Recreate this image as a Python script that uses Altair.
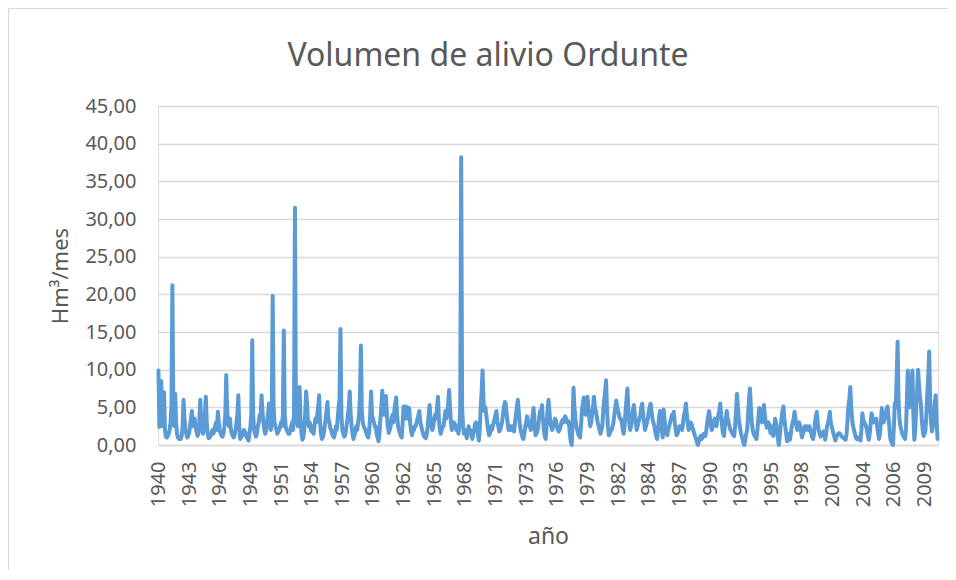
import altair as alt
import pandas as pd

# Monthly spill volume (Hm3/mes), hydrological years starting October 1940
volumen = [
    9.9, 2.4, 3.0, 8.5, 3.0, 2.5, 7.0, 2.0, 1.1, 1.0, 1.2, 1.5,
    2.0, 3.0, 5.0, 21.2, 5.0, 2.5, 6.8, 3.0, 1.5, 1.0, 0.8, 0.8,
    0.8, 1.2, 2.5, 6.0, 3.5, 2.0, 1.5, 1.0, 1.2, 1.6, 2.5, 3.5,
    4.5, 3.0, 2.5, 3.5, 2.5, 1.8, 1.2, 1.5, 3.0, 6.0, 3.5, 2.0,
    1.5, 2.5, 4.0, 6.4, 3.0, 1.5, 0.9, 1.0, 1.2, 1.5, 2.0, 1.5,
    1.8, 2.5, 3.0, 2.0, 4.4, 3.0, 2.0, 1.5, 1.2, 1.1, 1.5, 2.5,
    4.0, 9.3, 4.5, 3.0, 2.5, 3.5, 2.0, 1.5, 1.2, 1.0, 1.3, 2.0,
    3.0, 4.0, 6.6, 2.5, 0.8, 1.0, 1.2, 1.5, 2.0, 1.8, 1.5, 1.0,
    0.8, 0.6, 1.5, 2.5, 4.0, 13.9, 4.0, 2.0, 1.5, 1.1, 1.5, 2.5,
    3.0, 4.0, 3.5, 6.6, 4.5, 3.0, 2.0, 1.5, 2.0, 3.0, 4.0, 5.5,
    3.0, 2.0, 3.0, 19.8, 5.0, 3.0, 2.5, 2.0, 1.5, 1.8, 2.0, 2.5,
    3.0, 2.5, 4.0, 15.2, 4.0, 2.5, 2.0, 1.8, 1.5, 1.5, 2.0, 2.5,
    3.0, 2.0, 4.5, 31.5, 5.0, 3.5, 2.5, 4.0, 7.7, 3.5, 1.5, 0.7,
    1.0, 2.0, 4.0, 7.1, 5.5, 3.0, 2.5, 3.0, 2.0, 1.8, 2.5, 1.5,
    2.5, 3.5, 3.0, 4.0, 5.0, 6.6, 3.0, 1.5, 0.8, 1.0, 1.5, 2.5,
    3.5, 4.5, 5.7, 3.5, 3.0, 2.3, 2.0, 1.5, 1.2, 1.0, 1.5, 2.5,
    2.0, 3.5, 5.0, 6.0, 15.4, 4.0, 2.0, 1.5, 1.1, 1.3, 2.0, 3.0,
    4.0, 5.0, 7.1, 4.0, 2.5, 1.5, 0.8, 1.2, 1.8, 2.5, 2.0, 3.0,
    4.0, 6.5, 13.2, 4.5, 3.0, 2.5, 2.2, 2.0, 1.5, 1.2, 1.0, 2.0,
    4.0, 7.1, 4.0, 3.5, 3.0, 2.5, 2.5, 1.5, 1.0, 0.5, 1.5, 3.5,
    5.0, 7.2, 5.0, 4.0, 5.5, 6.5, 4.0, 2.5, 1.6, 2.0, 2.5, 3.5,
    4.0, 3.0, 4.5, 5.5, 6.3, 4.0, 2.5, 2.0, 1.6, 1.2, 1.0, 3.0,
    5.1, 4.0, 5.1, 3.5, 5.0, 4.5, 4.9, 3.0, 2.0, 1.3, 1.8, 2.0,
    2.5, 2.5, 3.0, 3.5, 4.0, 4.5, 3.0, 2.5, 2.0, 1.5, 1.2, 1.0,
    0.9, 1.5, 2.5, 4.0, 5.3, 3.5, 2.5, 2.0, 2.5, 3.5, 4.0, 3.5,
    5.0, 6.4, 3.5, 2.0, 1.5, 2.0, 2.5, 2.5, 3.5, 4.5, 3.5, 4.0,
    5.5, 7.3, 5.0, 3.0, 2.0, 2.5, 3.0, 2.8, 2.5, 2.0, 2.5, 1.5,
    2.5, 5.0, 38.2, 5.0, 2.5, 1.5, 2.0, 1.5, 0.9, 1.5, 2.5, 2.0,
    2.0, 1.5, 0.8, 1.5, 2.0, 2.8, 3.0, 2.5, 1.5, 0.6, 2.0, 5.0,
    7.0, 9.9, 6.0, 4.5, 5.0, 4.0, 3.0, 2.0, 1.3, 1.5, 2.5, 2.0,
    2.5, 3.0, 3.5, 4.0, 4.5, 3.0, 2.5, 1.8, 2.0, 2.5, 3.0, 4.0,
    5.0, 5.7, 5.5, 4.0, 3.0, 2.0, 2.5, 2.5, 2.0, 2.5, 2.0, 1.8,
    3.0, 4.0, 5.0, 6.0, 4.5, 3.0, 2.0, 1.5, 1.0, 0.8, 1.5, 2.5,
    3.0, 3.8, 3.0, 2.5, 2.5, 2.0, 3.0, 4.0, 4.9, 3.0, 1.3, 1.5,
    1.8, 2.5, 3.8, 4.5, 4.0, 5.3, 3.5, 2.0, 1.2, 0.8, 2.5, 4.5,
    6.0, 4.5, 3.0, 2.5, 2.0, 2.5, 3.0, 3.5, 3.3, 2.5, 2.0, 1.8,
    2.0, 2.5, 3.0, 3.3, 3.0, 3.5, 3.8, 3.5, 3.0, 3.2, 3.0, 1.5,
    0.5, 0.0, 3.0, 7.6, 5.0, 3.5, 2.5, 2.0, 1.5, 1.2, 1.0, 2.5,
    4.5, 5.5, 6.3, 5.0, 4.0, 5.0, 6.4, 5.0, 3.5, 2.5, 3.0, 4.0,
    5.0, 6.4, 5.0, 4.5, 3.8, 3.0, 2.5, 2.0, 1.5, 2.0, 2.5, 4.5,
    6.0, 7.0, 8.6, 5.0, 2.5, 1.3, 1.5, 2.0, 2.0, 2.5, 3.0, 4.0,
    5.0, 5.9, 5.0, 4.5, 4.0, 3.5, 3.5, 3.0, 2.0, 1.5, 2.5, 4.5,
    6.0, 7.5, 5.0, 3.0, 2.0, 2.5, 3.5, 4.5, 5.3, 4.0, 3.0, 2.0,
    2.5, 3.0, 3.5, 4.0, 5.0, 5.5, 4.0, 3.0, 2.0, 2.5, 3.0, 3.5,
    4.5, 5.0, 5.5, 4.5, 3.5, 3.0, 2.5, 1.8, 1.2, 0.8, 2.0, 3.5,
    4.5, 3.0, 2.0, 1.0, 4.7, 3.5, 2.0, 1.5, 1.3, 2.0, 2.5, 3.0,
    3.5, 4.0, 3.5, 4.4, 3.0, 2.0, 1.3, 1.5, 2.0, 2.5, 2.5, 2.2,
    2.0, 3.0, 4.0, 4.5, 5.5, 4.0, 3.0, 2.0, 2.5, 3.0, 2.8, 2.3,
    2.0, 1.5, 1.1, 0.8, 0.3, 0.0, 0.5, 1.0, 1.2, 0.8, 1.0, 1.5,
    1.5, 1.2, 2.0, 3.0, 3.8, 4.5, 3.5, 2.5, 2.0, 2.5, 3.0, 3.5,
    3.3, 2.5, 3.5, 4.0, 4.5, 5.5, 4.0, 2.5, 1.5, 1.2, 2.5, 3.5,
    4.5, 3.5, 3.0, 2.5, 2.0, 1.8, 1.5, 1.3, 1.2, 2.5, 4.5, 6.8,
    5.0, 3.5, 2.5, 1.8, 1.2, 0.8, 0.3, 0.0, 0.8, 1.5, 2.0, 4.0,
    6.0, 7.5, 5.0, 3.0, 2.0, 1.5, 1.2, 1.0, 0.8, 2.0, 3.5, 4.9,
    4.5, 3.5, 3.0, 4.0, 5.3, 4.0, 3.0, 2.3, 2.5, 3.0, 2.5, 1.6,
    2.5, 2.0, 1.2, 2.0, 3.5, 3.0, 2.0, 1.0, 0.0, 1.0, 2.5, 3.5,
    4.5, 5.1, 3.5, 2.5, 1.5, 0.5, 1.0, 1.5, 0.7, 1.5, 2.5, 3.0,
    3.5, 4.4, 3.5, 2.5, 2.0, 2.5, 3.0, 2.5, 1.8, 1.0, 1.5, 2.0,
    2.5, 2.0, 2.5, 2.3, 2.0, 2.5, 2.0, 1.5, 1.0, 0.8, 1.5, 3.0,
    3.8, 4.4, 3.0, 2.0, 1.5, 1.1, 1.3, 1.5, 1.8, 1.6, 0.7, 1.5,
    2.5, 3.0, 3.5, 4.4, 3.0, 2.5, 2.0, 1.5, 1.0, 0.6, 1.0, 1.3,
    1.5, 1.6, 1.5, 1.3, 1.1, 1.0, 0.9, 0.8, 0.7, 1.5, 3.0, 5.0,
    6.0, 7.7, 5.0, 3.5, 2.5, 2.0, 1.5, 1.0, 0.8, 1.0, 0.8, 0.7,
    0.6, 2.0, 4.2, 3.5, 3.0, 2.8, 2.5, 2.0, 1.2, 0.7, 1.5, 3.0,
    4.2, 3.5, 3.0, 3.2, 3.4, 3.5, 2.5, 1.5, 0.8, 1.5, 3.0, 4.9,
    4.0, 3.0, 3.5, 4.0, 4.5, 5.1, 4.0, 2.5, 1.0, 0.5, 0.2, 0.0,
    2.5, 5.5, 5.0, 9.0, 13.7, 6.0, 3.5, 2.5, 2.0, 1.5, 1.2, 1.0,
    0.8, 2.0, 6.0, 9.9, 7.0, 5.0, 6.5, 8.5, 9.9, 4.0, 0.7, 2.0,
    5.0, 7.0, 10.0, 8.0, 6.5, 5.5, 3.5, 2.0, 1.2, 1.5, 2.0, 4.0,
    6.8, 9.0, 12.4, 6.0, 3.0, 1.8, 2.5, 4.0, 5.5, 6.6, 3.0, 0.8,
]

# Category-axis labels (one every 33 months)
tick_idx = list(range(0, 826, 33))
tick_labels = ["1940", "1943", "1946", "1949", "1951", "1954", "1957", "1960",
               "1962", "1965", "1968", "1971", "1973", "1976", "1979", "1982",
               "1984", "1987", "1990", "1993", "1995", "1998", "2001", "2004",
               "2006", "2009"]
y_ticks = [0, 5, 10, 15, 20, 25, 30, 35, 40, 45]
chart_title = "Volumen de alivio Ordunte"

df = pd.DataFrame({"mes": list(range(len(volumen))), "volumen": volumen})

label_expr = "[" + ",".join(f"'{t}'" for t in tick_labels) + "][round(datum.value / 33)]"
ylabel_expr = "replace(format(datum.value, '.2f'), '.', ',')"

TXT = "#595959"
GRID = "#d9d9d9"
FONT = "Noto Sans"

n = len(volumen)

line = alt.Chart(df).mark_line(
    color="#5B9BD5", strokeWidth=4, strokeJoin="round", strokeCap="round"
).encode(
    x=alt.X(
        "mes:Q",
        scale=alt.Scale(domain=[-0.5, n - 0.5], nice=False, zero=False),
        axis=alt.Axis(
            values=tick_idx, labelExpr=label_expr, labelAngle=-90,
            labelAlign="right", labelBaseline="middle", labelPadding=16,
            labelFontSize=20, labelColor=TXT, labelFont=FONT, labelOverlap=False,
            ticks=False, grid=False, domain=True, domainColor=GRID, domainWidth=1.3,
            title="año", titleFontSize=23, titleColor=TXT, titleFont=FONT,
            titleFontWeight="normal", titleY=98, titleBaseline="alphabetic",
        ),
    ),
    y=alt.Y(
        "volumen:Q",
        scale=alt.Scale(domain=[0, 45], nice=False, zero=True),
        axis=alt.Axis(
            values=y_ticks, labelExpr=ylabel_expr, labelPadding=22,
            labelFontSize=20, labelColor=TXT, labelFont=FONT,
            ticks=False, domain=False, grid=True, gridColor=GRID, gridWidth=1.3,
            title="Hm³/mes", titleFontSize=22, titleColor=TXT, titleFont=FONT,
            titleFontWeight="normal", titleX=-91, titleBaseline="alphabetic",
        ),
    ),
)

one = pd.DataFrame({"t": [chart_title]})

border = alt.Chart(one).mark_rect(
    fillOpacity=0, stroke=GRID, strokeWidth=1.2
).encode(
    x=alt.value(-149.5), x2=alt.value(1200),
    y=alt.value(-97.5), y2=alt.value(1200),
)

title = alt.Chart(one).mark_text(
    fontSize=32, font=FONT, color=TXT, align="center", baseline="alphabetic"
).encode(
    text="t:N", x=alt.value(330), y=alt.value(-40),
)

chart = alt.layer(border, line, title).properties(
    width=780,
    height=339,
    autosize=alt.AutoSizeParams(type="none"),
    padding={"left": 150, "top": 98, "right": 10, "bottom": 125},
).configure_view(stroke=None).configure(font=FONT)

chart.save("out.html", embed_options={"renderer": "svg", "actions": False})
